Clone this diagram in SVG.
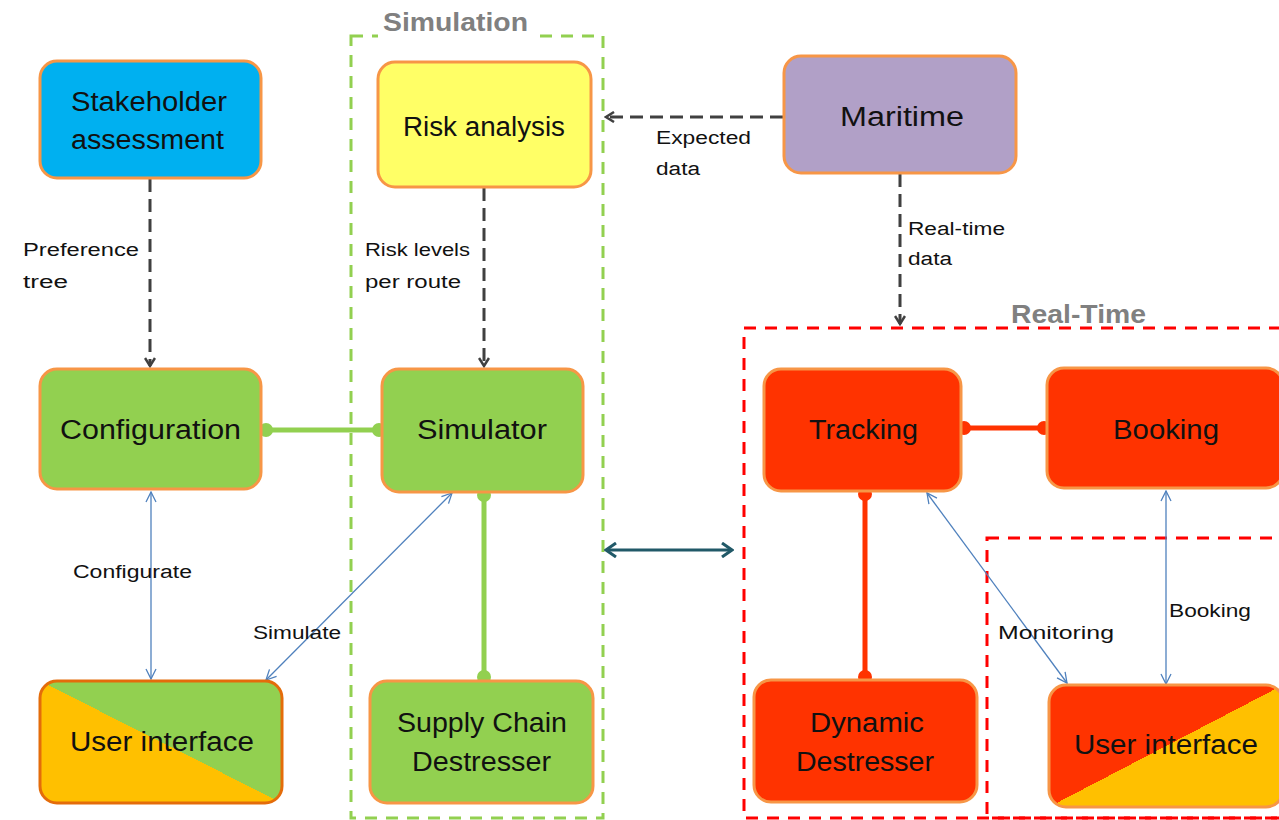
<svg xmlns="http://www.w3.org/2000/svg" width="1279" height="820" viewBox="0 0 1279 820">
<style>
.node{stroke:#F79646;stroke-width:3}
.lbl{font-family:"Liberation Sans",Arial,sans-serif;font-size:27px;fill:#111;dominant-baseline:central}
.sm{font-family:"Liberation Sans",Arial,sans-serif;font-size:18px;fill:#111;dominant-baseline:central}
.grp{font-family:"Liberation Sans",Arial,sans-serif;font-size:25px;font-weight:bold;fill:#808080;dominant-baseline:central}
.dash{stroke:#404040;stroke-width:3;stroke-dasharray:13 7;fill:none}
.blue{stroke:#4F81BD;stroke-width:1.3;fill:none}
.teal{stroke:#215968;stroke-width:3;fill:none}
.green{stroke:#92D050;stroke-width:5;fill:none}
.red{stroke:#FF3300;stroke-width:5;fill:none}
</style>
<defs>
<marker id="ga" viewBox="0 0 12 12" refX="10" refY="6" markerWidth="12" markerHeight="12" markerUnits="userSpaceOnUse" orient="auto"><path d="M2,1 L10,6 L2,11" fill="none" stroke="#404040" stroke-width="2.5"/></marker>
<marker id="ba" viewBox="0 0 12 12" refX="11" refY="6" markerWidth="12" markerHeight="12" markerUnits="userSpaceOnUse" orient="auto-start-reverse"><path d="M1,1 L11,6 L1,11" fill="none" stroke="#4F81BD" stroke-width="1.3"/></marker>
<marker id="ta" viewBox="0 0 14 16" refX="12" refY="8" markerWidth="14" markerHeight="16" markerUnits="userSpaceOnUse" orient="auto-start-reverse"><path d="M2,1 L12,8 L2,15" fill="none" stroke="#215968" stroke-width="3"/></marker>
<marker id="gd" viewBox="0 0 16 16" refX="8" refY="8" markerWidth="16" markerHeight="16" markerUnits="userSpaceOnUse"><circle cx="8" cy="8" r="7" fill="#92D050"/></marker>
<marker id="rd" viewBox="0 0 16 16" refX="8" refY="8" markerWidth="16" markerHeight="16" markerUnits="userSpaceOnUse"><circle cx="8" cy="8" r="7" fill="#FF3300"/></marker>
<linearGradient id="uiL" x1="0" y1="1" x2="1" y2="0"><stop offset="0.5" stop-color="#FFC000"/><stop offset="0.5" stop-color="#92D050"/></linearGradient>
<linearGradient id="uiR" x1="0" y1="0" x2="1" y2="1"><stop offset="0.5" stop-color="#FF3300"/><stop offset="0.5" stop-color="#FFC000"/></linearGradient>
</defs>
<rect width="1279" height="820" fill="#fff"/>

<g id="group-simulation">
<rect x="351" y="36" width="252" height="782" fill="none" stroke="#92D050" stroke-width="3" stroke-dasharray="12 9"/>
<rect x="378" y="8" width="156" height="30" fill="#fff"/>
<text class="grp" x="383" y="22" textLength="145" lengthAdjust="spacingAndGlyphs">Simulation</text>
</g>
<g id="group-realtime">
<rect x="744" y="328" width="560" height="490" fill="none" stroke="#FF0000" stroke-width="3" stroke-dasharray="12 9"/>
<rect x="987" y="538" width="320" height="280" fill="none" stroke="#FF0000" stroke-width="3" stroke-dasharray="12 9"/>
<text class="grp" x="1011" y="314" textLength="135" lengthAdjust="spacingAndGlyphs">Real-Time</text>
</g>

<g id="connectors">
<line class="dash" x1="150" y1="179" x2="150" y2="366" marker-end="url(#ga)"/>
<line class="dash" x1="484" y1="188" x2="484" y2="366" marker-end="url(#ga)"/>
<line class="dash" x1="783" y1="117" x2="606" y2="117" marker-end="url(#ga)"/>
<line class="dash" x1="900" y1="174" x2="900" y2="324" marker-end="url(#ga)"/>
<line class="blue" x1="151" y1="492" x2="151" y2="679" marker-start="url(#ba)" marker-end="url(#ba)"/>
<line class="blue" x1="452" y1="493" x2="266" y2="680" marker-start="url(#ba)" marker-end="url(#ba)"/>
<line class="blue" x1="927" y1="493" x2="1067" y2="683" marker-start="url(#ba)" marker-end="url(#ba)"/>
<line class="blue" x1="1166" y1="491" x2="1166" y2="684" marker-start="url(#ba)" marker-end="url(#ba)"/>
<line class="teal" x1="606" y1="550" x2="732" y2="550" marker-start="url(#ta)" marker-end="url(#ta)"/>
<line class="green" x1="266" y1="430" x2="379" y2="430" marker-start="url(#gd)" marker-end="url(#gd)"/>
<line class="green" x1="484" y1="495" x2="484" y2="677" marker-start="url(#gd)" marker-end="url(#gd)"/>
<line class="red" x1="964" y1="428" x2="1044" y2="428" marker-start="url(#rd)" marker-end="url(#rd)"/>
<line class="red" x1="865" y1="494" x2="865" y2="677" marker-start="url(#rd)" marker-end="url(#rd)"/>
<text class="sm" x="23" y="250" textLength="116" lengthAdjust="spacingAndGlyphs">Preference</text>
<text class="sm" x="23" y="282" textLength="45" lengthAdjust="spacingAndGlyphs">tree</text>
<text class="sm" x="365" y="250" textLength="105" lengthAdjust="spacingAndGlyphs">Risk levels</text>
<text class="sm" x="365" y="282" textLength="96" lengthAdjust="spacingAndGlyphs">per route</text>
<text class="sm" x="656" y="138" textLength="95" lengthAdjust="spacingAndGlyphs">Expected</text>
<text class="sm" x="656" y="169" textLength="44" lengthAdjust="spacingAndGlyphs">data</text>
<text class="sm" x="908" y="229" textLength="97" lengthAdjust="spacingAndGlyphs">Real-time</text>
<text class="sm" x="908" y="259" textLength="44" lengthAdjust="spacingAndGlyphs">data</text>
<text class="sm" x="73" y="572" textLength="119" lengthAdjust="spacingAndGlyphs">Configurate</text>
<text class="sm" x="253" y="633" textLength="88" lengthAdjust="spacingAndGlyphs">Simulate</text>
<text class="sm" x="998" y="633" textLength="116" lengthAdjust="spacingAndGlyphs">Monitoring</text>
<text class="sm" x="1169" y="611" textLength="82" lengthAdjust="spacingAndGlyphs">Booking</text>
</g>

<g id="stakeholder">
<rect class="node" x="40" y="61" width="221" height="117" rx="17" fill="#00B0F0"/>
<text class="lbl" x="71" y="102" textLength="156" lengthAdjust="spacingAndGlyphs">Stakeholder</text>
<text class="lbl" x="71" y="140" textLength="153" lengthAdjust="spacingAndGlyphs">assessment</text>
</g>
<g id="risk-analysis">
<rect class="node" x="378" y="62" width="213" height="125" rx="17" fill="#FFFF66"/>
<text class="lbl" x="403" y="127" textLength="162" lengthAdjust="spacingAndGlyphs">Risk analysis</text>
</g>
<g id="maritime">
<rect class="node" x="784" y="56" width="232" height="117" rx="17" fill="#B1A0C7"/>
<text class="lbl" x="840" y="117" textLength="124" lengthAdjust="spacingAndGlyphs">Maritime</text>
</g>
<g id="configuration">
<rect class="node" x="40" y="369" width="221" height="120" rx="17" fill="#92D050"/>
<text class="lbl" x="60" y="430" textLength="181" lengthAdjust="spacingAndGlyphs">Configuration</text>
</g>
<g id="simulator">
<rect class="node" x="382" y="369" width="201" height="123" rx="17" fill="#92D050"/>
<text class="lbl" x="417" y="430" textLength="130" lengthAdjust="spacingAndGlyphs">Simulator</text>
</g>
<g id="user-interface-sim">
<rect x="40" y="681" width="242" height="122" rx="17" fill="url(#uiL)" stroke="#E46C0A" stroke-width="3"/>
<text class="lbl" x="70" y="742" textLength="184" lengthAdjust="spacingAndGlyphs">User interface</text>
</g>
<g id="supply-chain-destresser">
<rect class="node" x="370" y="681" width="223" height="122" rx="17" fill="#92D050"/>
<text class="lbl" x="397" y="723" textLength="170" lengthAdjust="spacingAndGlyphs">Supply Chain</text>
<text class="lbl" x="412" y="762" textLength="139" lengthAdjust="spacingAndGlyphs">Destresser</text>
</g>
<g id="tracking">
<rect class="node" x="764" y="369" width="197" height="122" rx="17" fill="#FF3300"/>
<text class="lbl" x="809" y="430" textLength="109" lengthAdjust="spacingAndGlyphs">Tracking</text>
</g>
<g id="booking">
<rect class="node" x="1047" y="368" width="236" height="120" rx="17" fill="#FF3300"/>
<text class="lbl" x="1113" y="430" textLength="106" lengthAdjust="spacingAndGlyphs">Booking</text>
</g>
<g id="dynamic-destresser">
<rect class="node" x="754" y="680" width="223" height="122" rx="17" fill="#FF3300"/>
<text class="lbl" x="810" y="723" textLength="114" lengthAdjust="spacingAndGlyphs">Dynamic</text>
<text class="lbl" x="796" y="762" textLength="138" lengthAdjust="spacingAndGlyphs">Destresser</text>
</g>
<g id="user-interface-rt">
<rect class="node" x="1049" y="685" width="234" height="122" rx="17" fill="url(#uiR)"/>
<text class="lbl" x="1074" y="745" textLength="184" lengthAdjust="spacingAndGlyphs">User interface</text>
</g>
</svg>
